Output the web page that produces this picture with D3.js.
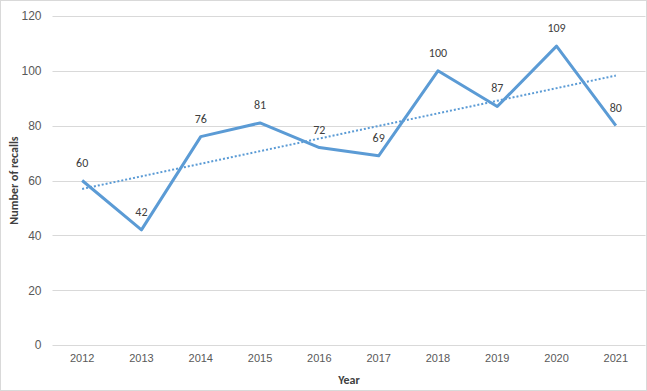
<!DOCTYPE html>
<html><head><meta charset="utf-8">
<script src="https://cdn.jsdelivr.net/npm/d3@7"></script>
<style>body{margin:0;background:#fff}svg{display:block;font-family:Calibri,Carlito,"Liberation Sans",Arial,sans-serif}</style>
</head><body><svg id="c" width="647" height="391"></svg>
<script>
const years = ["2012","2013","2014","2015","2016","2017","2018","2019","2020","2021"];
const recalls = [60,42,76,81,72,69,100,87,109,80];
const yTicks = [0,20,40,60,80,100,120];
const xTitle = "Year";
const yTitle = "Number of recalls";

const W=647,H=391, L=52.5, R=645.5, T=16, B=345;
const svg=d3.select("#c");
svg.append("rect").attr("x",0.5).attr("y",0.5).attr("width",W-1).attr("height",H-1).attr("fill","#fff").attr("stroke","#d9d9d9");
const x=d3.scaleBand().domain(years).range([L,R]);
const y=d3.scaleLinear().domain([0,120]).range([B,T]);
const cx=d=>x(d)+x.bandwidth()/2;

svg.append("g").selectAll("line").data(yTicks).join("line")
 .attr("x1",L).attr("x2",R).attr("y1",d=>Math.round(y(d))+0.5).attr("y2",d=>Math.round(y(d))+0.5)
 .attr("stroke","#d9d9d9").attr("stroke-width",1);

const ya=svg.append("g").attr("transform",`translate(${L},0)`).call(d3.axisLeft(y).tickValues(yTicks).tickSize(0).tickPadding(11));
ya.select(".domain").remove();
ya.selectAll("text").attr("font-size",12).attr("fill","#595959").style("font-family","inherit");
const xa=svg.append("g").attr("transform",`translate(0,${B})`).call(d3.axisBottom(x).tickSize(0).tickPadding(9));
xa.select(".domain").remove();
xa.selectAll("text").attr("font-size",11).attr("fill","#595959").style("font-family","inherit");

// linear trendline (least squares)
const n=recalls.length, xs=d3.range(1,n+1);
const mx=d3.mean(xs), my=d3.mean(recalls);
const slope=d3.sum(xs,(v,i)=>(v-mx)*(recalls[i]-my))/d3.sum(xs,v=>(v-mx)*(v-mx));
const icpt=my-slope*mx;
svg.append("line").attr("x1",cx(years[0])).attr("x2",cx(years[n-1]))
 .attr("y1",y(icpt+slope*1)).attr("y2",y(icpt+slope*n))
 .attr("stroke","#5B9BD5").attr("stroke-width",2).attr("stroke-dasharray","2,2");

svg.append("path").datum(recalls.map((v,i)=>[cx(years[i]),y(v)]))
 .attr("d",d3.line()).attr("fill","none").attr("stroke","#5B9BD5").attr("stroke-width",3).attr("stroke-linejoin","round");

svg.append("g").selectAll("text").data(recalls).join("text")
 .attr("x",(d,i)=>cx(years[i])).attr("y",d=>y(d)-14)
 .attr("text-anchor","middle").attr("font-size",12).attr("fill","#404040").text(d=>d);

svg.append("text").attr("x",(L+R)/2).attr("y",384).attr("text-anchor","middle")
 .attr("font-size",12).attr("font-weight","bold").attr("fill","#404040").text(xTitle);
svg.append("text").attr("transform",`translate(18,${(T+B)/2}) rotate(-90)`).attr("text-anchor","middle")
 .attr("font-size",12).attr("font-weight","bold").attr("fill","#404040").text(yTitle);
</script></body></html>
